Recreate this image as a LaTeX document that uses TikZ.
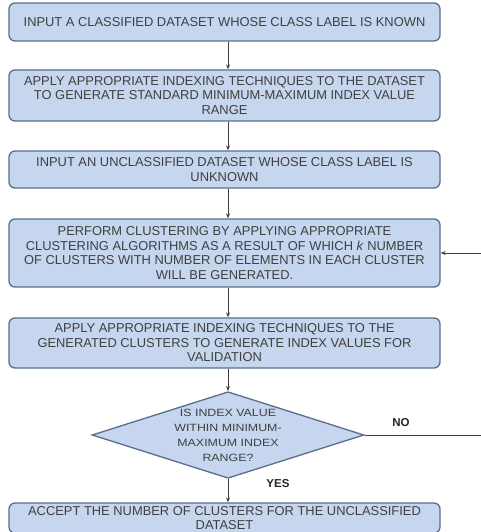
\documentclass[tikz,border=0pt]{standalone}
\usepackage{fontspec}
\setmainfont{Liberation Sans}
\newfontfamily\widesans[FakeStretch=1.18]{Liberation Sans}
\usetikzlibrary{shapes.geometric, arrows.meta}
\definecolor{boxfill}{HTML}{C6D6EE}
\definecolor{boxline}{HTML}{5A6E8C}
\definecolor{textgray}{HTML}{404040}
\definecolor{linegray}{HTML}{3F3F3F}
\tikzset{
  stepbox/.style={draw=boxline, line width=1.3pt, fill=boxfill, rounded corners=6pt,
    minimum width=431pt, align=center, text=textgray, inner sep=0pt,
    font=\fontsize{12.9}{14.5}\selectfont},
  decision/.style={draw=boxline, line width=1.3pt, fill=boxfill, diamond, aspect=3.14,
    minimum width=270pt, minimum height=86pt, align=center, text=textgray, inner sep=0pt,
    font=\widesans\fontsize{10.5}{15}\selectfont},
  flow/.style={draw=linegray, line width=0.9pt, -{Stealth[length=5pt, width=4pt]}},
  answer/.style={font=\bfseries\fontsize{11.5}{13}\selectfont, text=black!85}
}
\begin{document}
\begin{tikzpicture}[x=1pt, y=-1pt]
        \useasboundingbox (0,0) rectangle (481,532);
        \clip (0,0) rectangle (481,532);

        % Steps of the procedure
        \node[stepbox, minimum height=38pt] (known) at (224.5,22) {INPUT A CLASSIFIED DATASET WHOSE CLASS LABEL IS KNOWN};
        \node[stepbox, minimum height=51pt] (stdrange) at (224.5,95.5) {APPLY APPROPRIATE INDEXING TECHNIQUES TO THE DATASET\\TO GENERATE STANDARD MINIMUM-MAXIMUM INDEX VALUE\\RANGE};
        \node[stepbox, minimum height=37pt] (unknown) at (224.5,169.5) {INPUT AN UNCLASSIFIED DATASET WHOSE CLASS LABEL IS\\UNKNOWN};
        \node[stepbox, minimum height=68pt] (cluster) at (224.5,253) {PERFORM CLUSTERING BY APPLYING APPROPRIATE\\CLUSTERING ALGORITHMS AS A RESULT OF WHICH \textit{k} NUMBER\\OF CLUSTERS WITH NUMBER OF ELEMENTS IN EACH CLUSTER\\WILL BE GENERATED.};
        \node[stepbox, minimum height=50pt] (validate) at (224.5,343) {APPLY APPROPRIATE INDEXING TECHNIQUES TO THE\\GENERATED CLUSTERS TO GENERATE INDEX VALUES FOR\\VALIDATION};

        \node[decision] (check) at (228,435) {IS INDEX VALUE\\WITHIN MINIMUM-\\MAXIMUM INDEX\\RANGE?};

        \node[stepbox, minimum height=30pt] (accept) at (224.5,518) {ACCEPT THE NUMBER OF CLUSTERS FOR THE UNCLASSIFIED\\DATASET};

        \node[answer] (no) at (401,423) {NO};
        \node[answer] (yes) at (278,484) {YES};

        % Connect nodes
        \draw[flow] (known.south -| check) -- (stdrange.north -| check);
        \draw[flow] (stdrange.south -| check) -- (unknown.north -| check);
        \draw[flow] (unknown.south -| check) -- (cluster.north -| check);
        \draw[flow] (cluster.south -| check) -- (validate.north -| check);
        \draw[flow] (validate.south -| check) -- (check.north);
        \draw[flow] (check.south) -- (accept.north -| check);
        \draw[flow] (check.east) -- ++(150,0) |- (cluster.east);
    \end{tikzpicture}
\end{document}
